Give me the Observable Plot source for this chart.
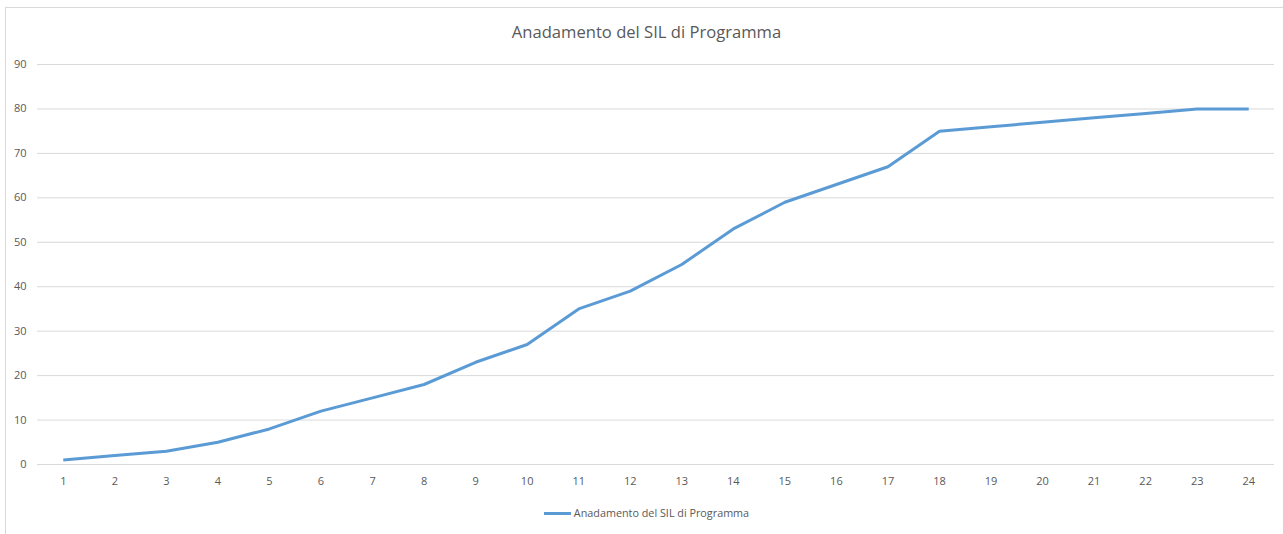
<!DOCTYPE html>
<html>
<head>
<meta charset="utf-8">
<script src="https://cdn.jsdelivr.net/npm/d3@7"></script>
<script src="https://cdn.jsdelivr.net/npm/@observablehq/plot@0.6"></script>
<style>
  html, body { margin: 0; padding: 0; background: #fff; overflow: hidden; }
  body { width: 1283px; height: 534px; position: relative; font-family: "Open Sans", sans-serif; }
  #frame { position: absolute; left: 5px; top: 7px; width: 1300px; height: 600px; border-left: 1px solid #d9d9d9; border-top: 1px solid #d9d9d9; box-sizing: border-box; }
  #title { position: absolute; left: 0; top: 20px; width: 1293px; text-align: center; font-size: 16.6px; color: #595959; line-height: 24px; }
  #chart { position: absolute; left: 0; top: 50px; }
  #legend { position: absolute; left: 0; top: 503px; width: 1293px; text-align: center; font-size: 10.8px; color: #595959; line-height: 20px; }
  #legend .sw { display: inline-block; width: 27px; height: 3px; background: #5b9bd5; vertical-align: middle; margin-right: 3px; position: relative; top: -1px; }
</style>
</head>
<body>
<div id="frame"></div>
<div id="title">Anadamento del SIL di Programma</div>
<div id="chart"></div>
<div id="legend"><span class="sw"></span><span id="legtext">Anadamento del SIL di Programma</span></div>
<script>
const periods = ["1","2","3","4","5","6","7","8","9","10","11","12","13","14","15","16","17","18","19","20","21","22","23","24"];
const silValues = [1, 2, 3, 5, 8, 12, 15, 18, 23, 27, 35, 39, 45, 53, 59, 63, 67, 75, 76, 77, 78, 79, 80, 80];
const yTicks = [0, 10, 20, 30, 40, 50, 60, 70, 80, 90];
const seriesName = "Anadamento del SIL di Programma";

const data = periods.map((p, i) => ({period: p, value: silValues[i]}));

const chart = Plot.plot({
  width: 1283,
  height: 444,
  marginTop: 14,
  marginBottom: 30,
  marginLeft: 37,
  marginRight: 9,
  style: {fontFamily: "'Open Sans', sans-serif", fontSize: "11px", color: "#595959", background: "transparent"},
  x: {type: "band", domain: periods, padding: 0, round: false, label: null},
  y: {domain: [0, 90], label: null},
  marks: [
    Plot.ruleY(yTicks, {stroke: "#d9d9d9", strokeWidth: 1}),
    Plot.axisY({ticks: yTicks, tickSize: 0, tickPadding: 11, label: null, fill: "#595959"}),
    Plot.axisX({tickSize: 0, tickPadding: 13, label: null, fill: "#595959"}),
    Plot.line(data, {x: "period", y: "value", stroke: "#5b9bd5", strokeWidth: 3, strokeLinejoin: "round", strokeLinecap: "butt"})
  ]
});
document.getElementById("chart").appendChild(chart);
document.getElementById("legtext").textContent = seriesName;
</script>
</body>
</html>
